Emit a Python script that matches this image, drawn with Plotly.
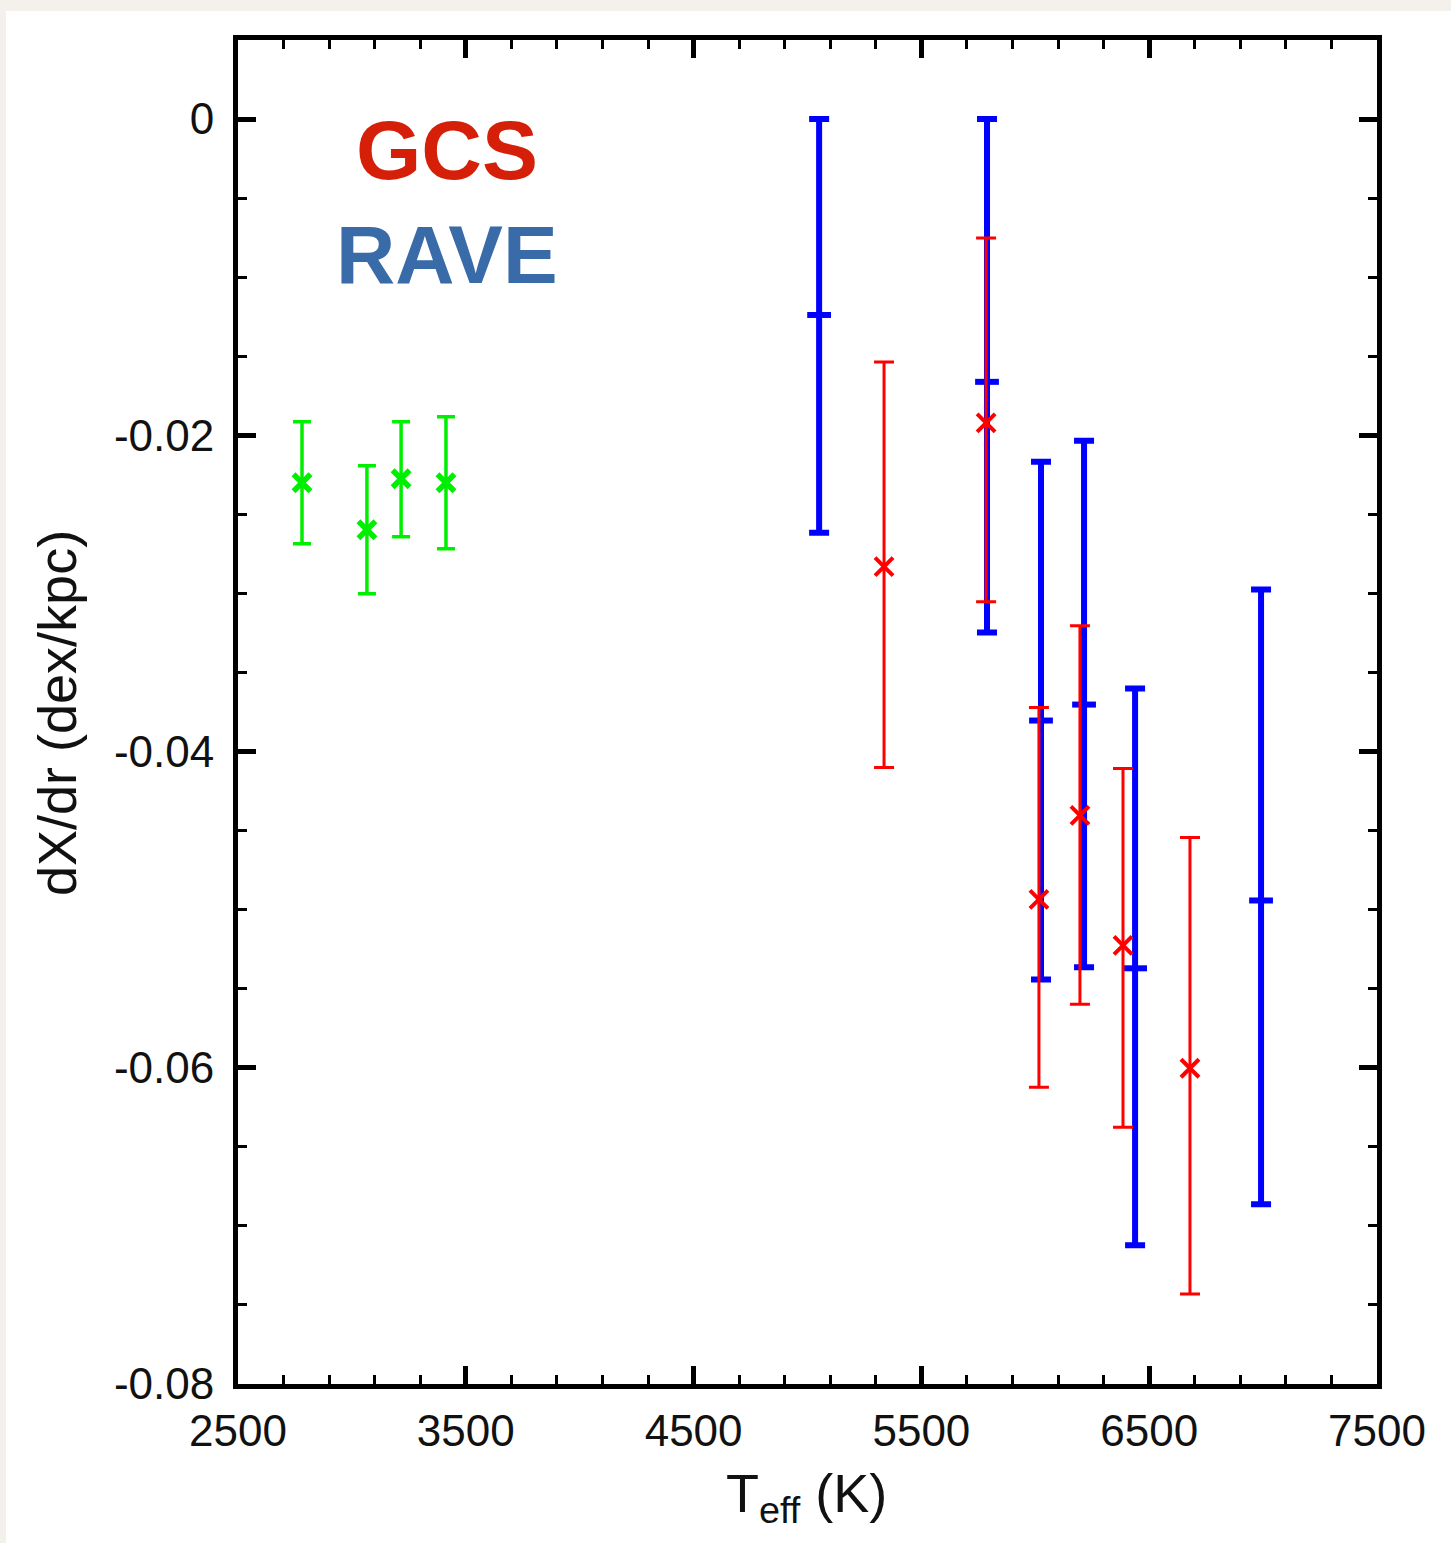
import plotly.graph_objects as go

# ---------------- data ----------------
# green series (cool stars)
green_teff = [2781, 3066, 3216, 3413]
green_val = [-0.0230, -0.02597, -0.02275, -0.0230]
green_top = [-0.01915, -0.02193, -0.01915, -0.01883]
green_bot = [-0.02686, -0.03002, -0.02641, -0.02717]

# RAVE (blue)
rave_teff = [5051, 5788, 6025, 6214, 6438, 6991]
rave_val = [-0.01239, -0.01662, -0.03804, -0.03703, -0.05371, -0.04942]
rave_top = [0.0, 0.0, -0.02167, -0.02035, -0.03602, -0.02976]
rave_bot = [-0.02616, -0.03248, -0.05441, -0.05365, -0.07122, -0.06863]

# GCS (red)
gcs_teff = [5336, 5784, 6016, 6196, 6385, 6679]
gcs_val = [-0.02831, -0.01921, -0.04935, -0.04404, -0.05226, -0.06003]
gcs_top = [-0.01536, -0.00752, -0.03722, -0.03204, -0.04107, -0.04543]
gcs_bot = [-0.04101, -0.03052, -0.06123, -0.05599, -0.06376, -0.07431]

x_ticks = [2500, 3500, 4500, 5500, 6500, 7500]
x_ticklabels = ["2500", "3500", "4500", "5500", "6500", "7500"]
y_ticks = [0, -0.02, -0.04, -0.06, -0.08]
y_ticklabels = ["0", "-0.02", "-0.04", "-0.06", "-0.08"]

FONT = "Liberation Sans, Arial, Helvetica, sans-serif"


def err(vals, tops, bots):
    plus = [t - v for v, t in zip(vals, tops)]
    minus = [v - b for v, b in zip(vals, bots)]
    return plus, minus


fig = go.Figure()

gp, gm = err(green_val, green_top, green_bot)
fig.add_trace(go.Scatter(
    x=green_teff, y=green_val, mode="markers", name="green",
    marker=dict(symbol="x-thin", size=17, color="#00ee00",
                line=dict(color="#00ee00", width=5.5)),
    error_y=dict(type="data", symmetric=False, array=gp, arrayminus=gm,
                 color="#00ee00", thickness=3.5, width=9),
    showlegend=False))

rp, rm = err(rave_val, rave_top, rave_bot)
fig.add_trace(go.Scatter(
    x=rave_teff, y=rave_val, mode="markers", name="RAVE",
    marker=dict(symbol="line-ew", size=17, color="#0000ff",
                line=dict(color="#0000ff", width=6)),
    error_y=dict(type="data", symmetric=False, array=rp, arrayminus=rm,
                 color="#0000ff", thickness=6, width=10),
    showlegend=False))

cp, cm = err(gcs_val, gcs_top, gcs_bot)
fig.add_trace(go.Scatter(
    x=gcs_teff, y=gcs_val, mode="markers", name="GCS",
    marker=dict(symbol="x-thin", size=18, color="#ff0000",
                line=dict(color="#ff0000", width=4)),
    error_y=dict(type="data", symmetric=False, array=cp, arrayminus=cm,
                 color="#ff0000", thickness=3, width=10),
    showlegend=False))

L, R, T, B = 238, 74, 40, 159
W, H = 1451, 1543
pw, ph = W - L - R, H - T - B


def px(xp):
    return (xp - L) / pw


def py(yp):
    return (H - B - yp) / ph


axis_common = dict(
    showline=True, linecolor="black", linewidth=5, mirror="allticks",
    ticks="inside", ticklen=18, tickwidth=5, tickcolor="black",
    showgrid=False, zeroline=False,
    tickfont=dict(family=FONT, size=44, color="#111111"),
)

fig.update_xaxes(
    range=[2500, 7500], tickmode="array", tickvals=x_ticks,
    ticktext=x_ticklabels, ticklabelstandoff=4,
    minor=dict(dtick=200, tick0=2500, ticks="inside", ticklen=9,
               tickwidth=3, tickcolor="black"),
    **axis_common)
fig.update_yaxes(
    range=[-0.08, 0.005], tickmode="array", tickvals=y_ticks,
    ticktext=y_ticklabels, ticklabelstandoff=10,
    minor=dict(dtick=0.005, tick0=0, ticks="inside", ticklen=9,
               tickwidth=3, tickcolor="black"),
    **axis_common)

fig.update_layout(
    width=W, height=H, autosize=False,
    margin=dict(l=L, r=R, t=T, b=B, pad=0),
    paper_bgcolor="#f4f1ec", plot_bgcolor="white",
    shapes=[dict(type="rect", xref="paper", yref="paper",
                 x0=px(6), x1=px(W + 20), y0=py(H + 20), y1=py(11),
                 fillcolor="white", line=dict(width=0), layer="below")],
    annotations=[
        dict(text="<b>GCS</b>", x=px(447), y=py(150), xref="paper", yref="paper",
             showarrow=False, xanchor="center", yanchor="middle",
             font=dict(family=FONT, size=84, color="#d61f08")),
        dict(text="<b>RAVE</b>", x=px(447), y=py(254), xref="paper", yref="paper",
             showarrow=False, xanchor="center", yanchor="middle",
             font=dict(family=FONT, size=82, color="#396ba8")),
        dict(text="dX/dr (dex/kpc)", x=px(57), y=py(713), xref="paper", yref="paper",
             showarrow=False, textangle=-90, xanchor="center", yanchor="middle",
             font=dict(family=FONT, size=54, color="#111111")),
        dict(text="T<sub>eff</sub> (K)", x=px(806), y=py(1497), xref="paper", yref="paper",
             showarrow=False, xanchor="center", yanchor="middle",
             font=dict(family=FONT, size=54, color="#111111")),
    ],
)

fig.write_html("out.html")
